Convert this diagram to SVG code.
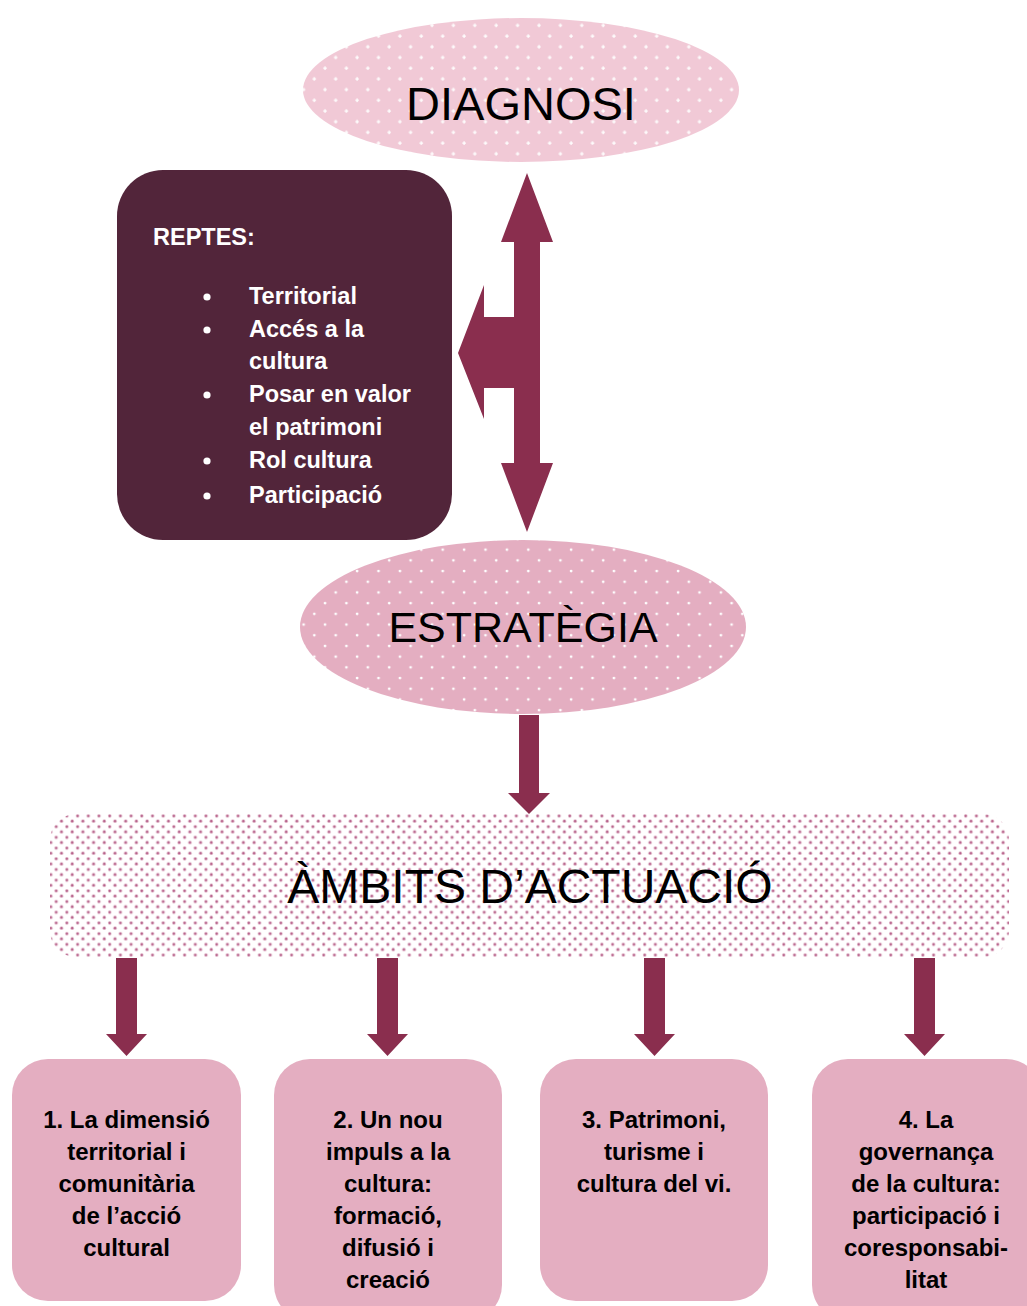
<svg xmlns="http://www.w3.org/2000/svg" width="1027" height="1306" viewBox="0 0 1027 1306">
  <defs>
    <pattern id="pDiag" width="21.4" height="21.4" patternUnits="userSpaceOnUse">
      <rect width="21.4" height="21.4" fill="#F1C9D6"/>
      <path d="M4 2.2v3.6M2.2 4h3.6M14.7 12.9v3.6M12.9 14.7h3.6" stroke="#FFFFFF" stroke-width="1.3"/>
    </pattern>
    <pattern id="pStrat" width="21.4" height="21.4" patternUnits="userSpaceOnUse">
      <rect width="21.4" height="21.4" fill="#E4AEC1"/>
      <circle cx="4" cy="4" r="1.4" fill="#FFFFFF"/>
      <circle cx="14.7" cy="14.7" r="1.4" fill="#FFFFFF"/>
    </pattern>
    <pattern id="pAmbits" width="10.7" height="10.7" patternUnits="userSpaceOnUse">
      <rect width="10.7" height="10.7" fill="#FFFFFF"/>
      <circle cx="2.7" cy="2.7" r="1.8" fill="#E0B3C6"/>
      <circle cx="2.7" cy="2.7" r="1.1" fill="#B5608A"/>
      <circle cx="8" cy="8" r="1.8" fill="#E0B3C6"/>
      <circle cx="8" cy="8" r="1.1" fill="#B5608A"/>
    </pattern>
  </defs>
  <style>
    .big { font-family: "Liberation Sans", Arial, sans-serif; fill: #000000; text-anchor: middle; }
    .rep { font-family: "Liberation Sans", Arial, sans-serif; font-weight: bold; font-size: 23.5px; fill: #FFFFFF; }
    .box { fill: #E4AEC1; }
    .lbl { font-family: "Liberation Sans", Arial, sans-serif; font-weight: bold; font-size: 24px; fill: #000000; text-anchor: middle; }
    .arrow { fill: #8A2E4E; }
  </style>
  <rect width="1027" height="1306" fill="#FFFFFF"/>

  <g id="diagnosi">
    <ellipse cx="521" cy="90" rx="218" ry="72" fill="url(#pDiag)"/>
    <text class="big" x="521" y="120" font-size="47">DIAGNOSI</text>
  </g>

  <g id="reptes">
    <rect x="117" y="170" width="335" height="370" rx="46" fill="#52253A"/>
    <text class="rep" x="153" y="245">REPTES:</text>
    <g fill="#FFFFFF">
      <circle cx="207" cy="297" r="3.6"/>
      <circle cx="207" cy="330" r="3.6"/>
      <circle cx="207" cy="395" r="3.6"/>
      <circle cx="207" cy="461" r="3.6"/>
      <circle cx="207" cy="496" r="3.6"/>
    </g>
    <text class="rep" x="249" y="304">Territorial</text>
    <text class="rep" x="249" y="337">Accés a la</text>
    <text class="rep" x="249" y="369">cultura</text>
    <text class="rep" x="249" y="402">Posar en valor</text>
    <text class="rep" x="249" y="435">el patrimoni</text>
    <text class="rep" x="249" y="468">Rol cultura</text>
    <text class="rep" x="249" y="503">Participació</text>
  </g>

  <g id="estrategia">
    <ellipse cx="523" cy="627" rx="223" ry="87" fill="url(#pStrat)"/>
    <text class="big" x="523" y="642" font-size="43">ESTRATÈGIA</text>
  </g>

  <g id="ambits">
    <rect x="50" y="814" width="959" height="143" rx="26" fill="url(#pAmbits)"/>
    <text class="big" x="530" y="903" font-size="48">ÀMBITS D’ACTUACIÓ</text>
  </g>

  <g id="ambit1">
    <rect class="box" x="12" y="1059" width="229" height="242" rx="36"/>
    <text class="lbl" x="126.5" y="1128">1. La dimensió</text>
    <text class="lbl" x="126.5" y="1160">territorial i</text>
    <text class="lbl" x="126.5" y="1192">comunitària</text>
    <text class="lbl" x="126.5" y="1224">de l’acció</text>
    <text class="lbl" x="126.5" y="1256">cultural</text>
  </g>

  <g id="ambit2">
    <rect class="box" x="274" y="1059" width="228" height="262" rx="36"/>
    <text class="lbl" x="388" y="1128">2. Un nou</text>
    <text class="lbl" x="388" y="1160">impuls a la</text>
    <text class="lbl" x="388" y="1192">cultura:</text>
    <text class="lbl" x="388" y="1224">formació,</text>
    <text class="lbl" x="388" y="1256">difusió i</text>
    <text class="lbl" x="388" y="1288">creació</text>
  </g>

  <g id="ambit3">
    <rect class="box" x="540" y="1059" width="228" height="242" rx="36"/>
    <text class="lbl" x="654" y="1128">3. Patrimoni,</text>
    <text class="lbl" x="654" y="1160">turisme i</text>
    <text class="lbl" x="654" y="1192">cultura del vi.</text>
  </g>

  <g id="ambit4">
    <rect class="box" x="812" y="1059" width="230" height="262" rx="36"/>
    <text class="lbl" x="926" y="1128">4. La</text>
    <text class="lbl" x="926" y="1160">governança</text>
    <text class="lbl" x="926" y="1192">de la cultura:</text>
    <text class="lbl" x="926" y="1224">participació i</text>
    <text class="lbl" x="926" y="1256">coresponsabi-</text>
    <text class="lbl" x="926" y="1288">litat</text>
  </g>

  <g id="connectors">
    <polygon class="arrow" points="527,173 553,242 540,242 540,463 553,463 527,532 501,463 514,463 514,388 484,388 484,419 458,353 484,285 484,317 514,317 514,242 501,242"/>
    <polygon class="arrow" points="519,715 539,715 539,793 550,793 529,814 508,793 519,793"/>
    <polygon class="arrow" points="116,958 137,958 137,1034 147,1034 126.5,1056 106,1034 116,1034"/>
    <polygon class="arrow" points="377,958 398,958 398,1034 408,1034 387.5,1056 367,1034 377,1034"/>
    <polygon class="arrow" points="644,958 665,958 665,1034 675,1034 654.5,1056 634,1034 644,1034"/>
    <polygon class="arrow" points="914,958 935,958 935,1034 945,1034 924.5,1056 904,1034 914,1034"/>
  </g>
</svg>
